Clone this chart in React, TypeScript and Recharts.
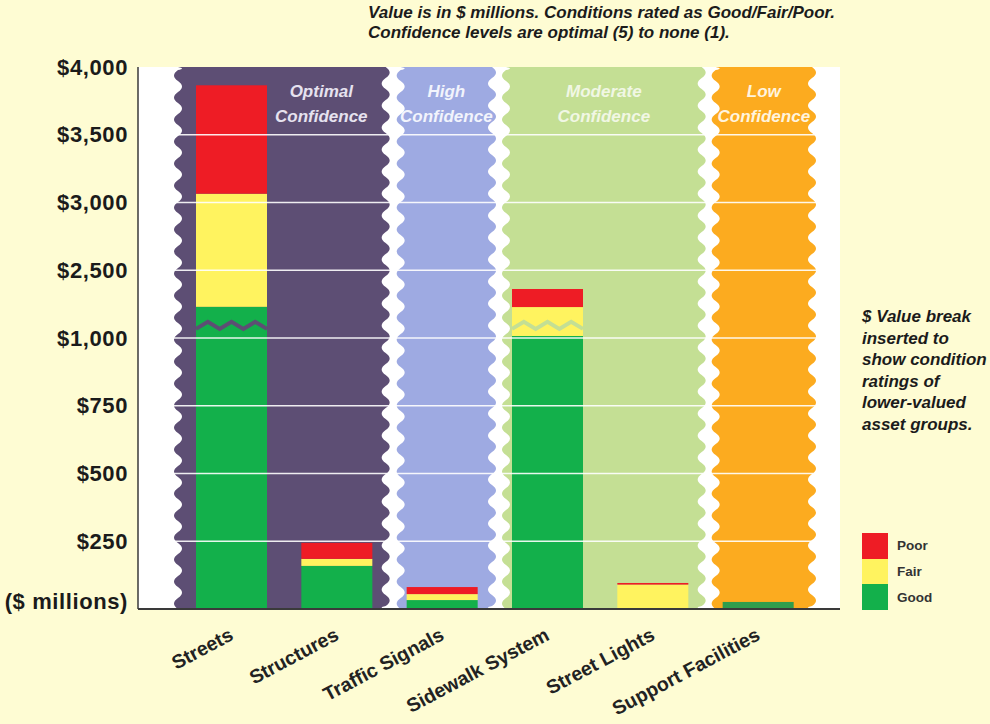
import React from 'react';
import { BarChart, Bar, XAxis, YAxis, CartesianGrid, ReferenceArea, ReferenceLine, Cell } from 'recharts';

const CATEGORIES = ['Streets', 'Structures', 'Traffic Signals', 'Sidewalk System', 'Street Lights', 'Support Facilities'];
const GOOD = [1690, 159, 33, 1045, 0, 26];
const FAIR = [1375, 26, 22, 640, 90, 0];
const POOR = [800, 59, 26, 400, 6, 0];

// y axis is in "slots": 0-1000 by 250, then one slot 1000-2500, then 500 per slot
const Y_TICKS = [0, 1, 2, 3, 4, 5, 6, 7, 8];
const Y_TICK_LABELS = ['($ millions)', '$250', '$500', '$750', '$1,000', '$2,500', '$3,000', '$3,500', '$4,000'];
const BREAK_VALUE = 1280; // where the zigzag break is drawn

const BANDS = [
  { from: 'Streets', to: 'Structures', lines: ['Optimal', 'Confidence'] },
  { from: 'Traffic Signals', to: 'Traffic Signals', lines: ['High', 'Confidence'] },
  { from: 'Sidewalk System', to: 'Street Lights', lines: ['Moderate', 'Confidence'] },
  { from: 'Support Facilities', to: 'Support Facilities', lines: ['Low', 'Confidence'] },
];

const BAND_STYLES = [
  { fill: '#5d4e74', text: '#e6e2ef', inL: -1, inR: 4, labelAt: 0.69 },
  { fill: '#9eaae2', text: '#f2f4fc', inL: 11, inR: 3, labelAt: 0.5 },
  { fill: '#c4df94', text: '#f1f7e4', inL: 11, inR: 4, labelAt: 0.5 },
  { fill: '#fcab1f', text: '#fff4de', inL: 10, inR: -1, labelAt: 0.5 },
];

const COLORS = { good: '#13b04b', fair: '#fff35f', poor: '#ee1c25', goodDark: '#2f9d4d' };
const FONT = '"Liberation Sans", Arial, Helvetica, sans-serif';

const toUnits = (v: number) =>
  v <= 1000 ? v / 250 : v <= 2500 ? 4 + (v - 1000) / 1500 : 5 + (v - 2500) / 500;
const BREAK_U = toUnits(BREAK_VALUE);

const data = CATEGORIES.map((name, i) => {
  const g = toUnits(GOOD[i]);
  const gf = toUnits(GOOD[i] + FAIR[i]);
  const t = toUnits(GOOD[i] + FAIR[i] + POOR[i]);
  return { name, good: g, fair: gf - g, poor: t - gf };
});

function bandFillFor(name: string) {
  const ci = CATEGORIES.indexOf(name);
  for (let b = 0; b < BANDS.length; b++) {
    if (ci >= CATEGORIES.indexOf(BANDS[b].from) && ci <= CATEGORIES.indexOf(BANDS[b].to)) return BAND_STYLES[b].fill;
  }
  return '#fff';
}

// wavy edged band
function wavyPath(xl: number, xr: number, top: number, bottom: number) {
  const P = 22;
  const A = 8;
  let d = `M${xl},${top} L${xr},${top}`;
  for (let yy = top; yy < bottom; yy += P) {
    const y1 = Math.min(yy + P / 2, bottom);
    const y2 = Math.min(yy + P, bottom);
    d += ` Q${xr + A},${(yy + y1) / 2} ${xr},${y1} Q${xr - A},${(y1 + y2) / 2} ${xr},${y2}`;
  }
  d += ` L${xl},${bottom}`;
  for (let yy = bottom; yy > top; yy -= P) {
    const y1 = Math.max(yy - P / 2, top);
    const y2 = Math.max(yy - P, top);
    d += ` Q${xl - A},${(yy + y1) / 2} ${xl},${y1} Q${xl + A},${(y1 + y2) / 2} ${xl},${y2}`;
  }
  return d + ' Z';
}

function makeBandShape(b: number) {
  return (props: any) => {
    const { x, y, width, height } = props;
    const st = BAND_STYLES[b];
    const xl = x + st.inL;
    const xr = x + width - st.inR;
    const cx = xl + (xr - xl) * st.labelAt;
    return (
      <g>
        <path d={wavyPath(xl, xr, y, y + height)} fill={st.fill} />
        {BANDS[b].lines.map((line, k) => (
          <text key={k} x={cx} y={y + 30 + k * 25} textAnchor="middle" fontFamily={FONT} fontSize={17}
            fontWeight="bold" fontStyle="italic" fill={st.text}>
            {line}
          </text>
        ))}
      </g>
    );
  };
}

function makeBarShape(key: 'good' | 'fair' | 'poor') {
  return (props: any) => {
    const { x, y, width, height, fill, payload } = props;
    if (!height || height <= 0) return null;
    const lo = key === 'good' ? 0 : key === 'fair' ? payload.good : payload.good + payload.fair;
    const hi = lo + payload[key];
    let zig = null;
    if (lo < BREAK_U && hi > BREAK_U) {
      const by = y + ((hi - BREAK_U) * height) / (hi - lo);
      const step = width / 6;
      const pts: string[] = [];
      for (let k = 0; k <= 6; k++) pts.push(`${x + k * step},${by + (k % 2 === 0 ? 3.5 : -3.5)}`);
      zig = <polyline points={pts.join(' ')} fill="none" stroke={bandFillFor(payload.name)} strokeWidth={4} />;
    }
    return (
      <g>
        <rect x={x} y={y} width={width} height={height} fill={fill} />
        {zig}
      </g>
    );
  };
}

const YTick = (props: any) => {
  const { x, y, payload } = props;
  return (
    <text x={x - 8} y={y} dy={payload.value === 0 ? 0 : 7.5} textAnchor="end" fontFamily={FONT} fontSize={22}
      letterSpacing={0.6} fontWeight="bold" fill="#1b1b1b">
      {Y_TICK_LABELS[payload.value]}
    </text>
  );
};

const XTick = (props: any) => {
  const { x, y, payload } = props;
  return (
    <g transform={`translate(${x + 3},${y + 28}) rotate(-28)`}>
      <text x={0} y={0} textAnchor="end" fontFamily={FONT} fontSize={19.5} fontWeight="bold" fill="#222">
        {payload.value}
      </text>
    </g>
  );
};

const LEGEND_ITEMS = [
  { label: 'Poor', color: COLORS.poor },
  { label: 'Fair', color: COLORS.fair },
  { label: 'Good', color: COLORS.good },
];

const noteStyle: React.CSSProperties = {
  position: 'absolute',
  fontFamily: FONT,
  fontWeight: 'bold',
  fontStyle: 'italic',
  color: '#1b1b1b',
  whiteSpace: 'nowrap',
};

export default function App() {
  return (
    <div style={{ position: 'relative', width: 990, height: 724, background: '#fefcd3', overflow: 'hidden' }}>
      <style>{'body{margin:0}'}</style>
      <div style={{ ...noteStyle, left: 368, top: 3, fontSize: 17, lineHeight: '20px' }}>
        Value is in $ millions. Conditions rated as Good/Fair/Poor.
        <br />
        Confidence levels are optimal (5) to none (1).
      </div>
      <div style={{ ...noteStyle, left: 862, top: 306, fontSize: 17, lineHeight: '21.5px' }}>
        $ Value break
        <br />inserted to
        <br />show condition
        <br />ratings of
        <br />lower-valued
        <br />asset groups.
      </div>
      <div style={{ position: 'absolute', left: 862, top: 533, fontFamily: FONT }}>
        {LEGEND_ITEMS.map((it) => (
          <div key={it.label} style={{ display: 'flex', alignItems: 'center', height: 25.7 }}>
            <div style={{ width: 26, height: 25.7, background: it.color }} />
            <span style={{ marginLeft: 9, fontSize: 13.5, fontWeight: 'bold', color: '#333' }}>{it.label}</span>
          </div>
        ))}
      </div>
      <BarChart width={990} height={724} data={data} margin={{ top: 67, right: 150, bottom: 0, left: 0 }}>
        <CartesianGrid fill="#ffffff" horizontal={false} vertical={false} />
        <XAxis dataKey="name" height={115} padding={{ left: 41, right: 29 }} tickLine={false} tickSize={0}
          axisLine={{ stroke: '#3a3a3a', strokeWidth: 2 }} tick={<XTick />} interval={0} />
        <XAxis xAxisId="top" dataKey="name" orientation="top" height={0} tick={false} tickLine={false}
          axisLine={{ stroke: '#3a3a3a', strokeWidth: 1.5 }} padding={{ left: 41, right: 29 }} />
        <YAxis domain={[0, 8]} ticks={Y_TICKS} width={138} tickLine={false} tickSize={0}
          axisLine={{ stroke: '#3a3a3a', strokeWidth: 1.5 }} tick={<YTick />} interval={0} />
        <YAxis yAxisId="right" orientation="right" width={0} tick={false} tickLine={false}
          axisLine={{ stroke: '#3a3a3a', strokeWidth: 1.5 }} />
        {BANDS.map((b, i) => (
          <ReferenceArea key={b.from} x1={b.from} x2={b.to} y1={0} y2={8} shape={makeBandShape(i)}
            ifOverflow="visible" zIndex={-60} />
        ))}
        <Bar dataKey="good" stackId="a" barSize={71} fill={COLORS.good} shape={makeBarShape('good')} isAnimationActive={false}>
          {data.map((d) => (
            <Cell key={d.name} fill={d.name === 'Support Facilities' ? COLORS.goodDark : COLORS.good} />
          ))}
        </Bar>
        <Bar dataKey="fair" stackId="a" barSize={71} fill={COLORS.fair} shape={makeBarShape('fair')} isAnimationActive={false} />
        <Bar dataKey="poor" stackId="a" barSize={71} fill={COLORS.poor} shape={makeBarShape('poor')} isAnimationActive={false} />
        {[1, 2, 3, 4, 5, 6, 7].map((t) => (
          <ReferenceLine key={t} y={t} stroke="#ffffff" strokeWidth={1.5} strokeOpacity={0.9} zIndex={350} />
        ))}
      </BarChart>
    </div>
  );
}
